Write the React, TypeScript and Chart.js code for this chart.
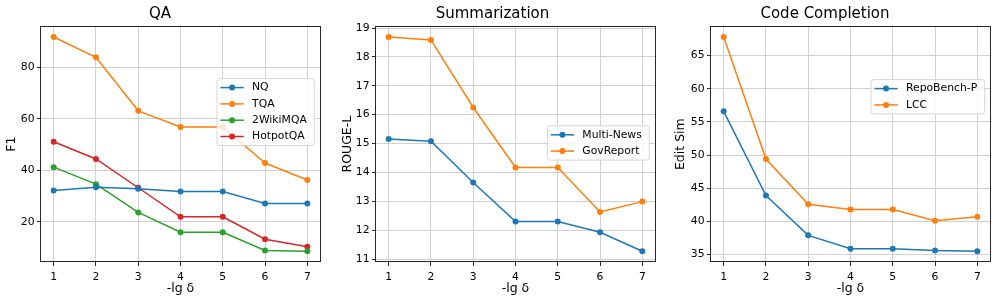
import React, { useEffect, useRef } from "react";
import { Chart, registerables } from "chart.js";

Chart.register(...registerables);

// ---- data ----
const steps = [1, 2, 3, 4, 5, 6, 7];

const qaNQ = [32.1, 33.4, 32.8, 31.7, 31.7, 27.1, 27.1];
const qaTQA = [91.8, 83.9, 63.1, 56.8, 56.8, 42.8, 36.2];
const qa2Wiki = [41.2, 34.6, 23.6, 15.9, 15.9, 8.8, 8.5];
const qaHotpot = [51.1, 44.4, 33.2, 21.9, 21.9, 13.2, 10.3];
const qaTicks = [20, 40, 60, 80];

const sumMultiNews = [15.16, 15.08, 13.65, 12.3, 12.3, 11.93, 11.27];
const sumGovReport = [18.69, 18.59, 16.25, 14.17, 14.17, 12.63, 12.99];
const sumTicks = [11, 12, 13, 14, 15, 16, 17, 18, 19];

const codeRepoBench = [56.6, 43.9, 37.9, 35.9, 35.9, 35.6, 35.5];
const codeLCC = [67.8, 49.4, 42.6, 41.8, 41.8, 40.1, 40.7];
const codeTicks = [35, 40, 45, 50, 55, 60, 65];

const BLUE = "#1f77b4";
const ORANGE = "#ff7f0e";
const GREEN = "#2ca02c";
const RED = "#d62728";
const FONT = "'DejaVu Sans', sans-serif";

type Series = { label: string; data: number[]; color: string };
type Panel = {
  title: string;
  yLabel: string;
  series: Series[];
  yTicks: number[];
  x: number;
  width: number;
  yAxisW: number;
  rightPad: number;
  yTitlePad: number;
  legendTop: number;
  legendGap: number;
};

const panels: Panel[] = [
  {
    title: "QA",
    yLabel: "F1",
    series: [
      { label: "NQ", data: qaNQ, color: BLUE },
      { label: "TQA", data: qaTQA, color: ORANGE },
      { label: "2WikiMQA", data: qa2Wiki, color: GREEN },
      { label: "HotpotQA", data: qaHotpot, color: RED },
    ],
    yTicks: qaTicks,
    x: 0,
    width: 330,
    yAxisW: 41,
    rightPad: 10,
    yTitlePad: 4.2,
    legendTop: 52.3,
    legendGap: 5.7,
  },
  {
    title: "Summarization",
    yLabel: "ROUGE-L",
    series: [
      { label: "Multi-News", data: sumMultiNews, color: BLUE },
      { label: "GovReport", data: sumGovReport, color: ORANGE },
    ],
    yTicks: sumTicks,
    x: 330,
    width: 330,
    yAxisW: 46,
    rightPad: 5,
    yTitlePad: 9.8,
    legendTop: 99.5,
    legendGap: 5.7,
  },
  {
    title: "Code Completion",
    yLabel: "Edit Sim",
    series: [
      { label: "RepoBench-P", data: codeRepoBench, color: BLUE },
      { label: "LCC", data: codeLCC, color: ORANGE },
    ],
    yTicks: codeTicks,
    x: 660,
    width: 336,
    yAxisW: 51,
    rightPad: 6,
    yTitlePad: 13.2,
    legendTop: 53.3,
    legendGap: 5.3,
  },
];

const boxPlugin = {
  id: "boxPlugin",
  afterDatasetsDraw(chart: any) {
    const { ctx, chartArea } = chart;
    ctx.save();
    ctx.strokeStyle = "#262626";
    ctx.lineWidth = 1;
    ctx.strokeRect(
      Math.round(chartArea.left) - 0.5,
      Math.round(chartArea.top) + 0.5,
      Math.round(chartArea.right - chartArea.left) + 1,
      Math.round(chartArea.bottom - chartArea.top) - 1
    );
    ctx.restore();
  },
};

const legendPlugin = {
  id: "mplLegend",
  afterDraw(chart: any, _args: any, opts: any) {
    const { ctx, chartArea } = chart;
    const items: Series[] = opts.items || [];
    if (!items.length) return;
    ctx.save();
    ctx.font = `10.8px ${FONT}`;
    const textW = Math.max(...items.map((i) => ctx.measureText(i.label).width));
    const rowH = 16.3;
    const padL = 3.4;
    const handleW = 23.3;
    const gap = 8.3;
    const padR = 7.5;
    const w = padL + handleW + gap + textW + padR;
    const h = 18 + (items.length - 1) * rowH;
    const right = chartArea.right - opts.gap;
    const x = right - w;
    const y = chartArea.top + opts.top;
    const r = 2.5;
    ctx.beginPath();
    ctx.moveTo(x + r, y);
    ctx.lineTo(x + w - r, y);
    ctx.arcTo(x + w, y, x + w, y + r, r);
    ctx.lineTo(x + w, y + h - r);
    ctx.arcTo(x + w, y + h, x + w - r, y + h, r);
    ctx.lineTo(x + r, y + h);
    ctx.arcTo(x, y + h, x, y + h - r, r);
    ctx.lineTo(x, y + r);
    ctx.arcTo(x, y, x + r, y, r);
    ctx.closePath();
    ctx.fillStyle = "rgba(255,255,255,0.8)";
    ctx.fill();
    ctx.strokeStyle = "#d6d6d6";
    ctx.lineWidth = 1;
    ctx.stroke();
    items.forEach((it, i) => {
      const cy = y + 9 + i * rowH;
      const hx = x + padL;
      ctx.strokeStyle = it.color;
      ctx.lineWidth = 1.5;
      ctx.beginPath();
      ctx.moveTo(hx, cy);
      ctx.lineTo(hx + handleW, cy);
      ctx.stroke();
      ctx.fillStyle = it.color;
      ctx.beginPath();
      ctx.arc(hx + handleW / 2, cy, 3, 0, Math.PI * 2);
      ctx.fill();
      ctx.fillStyle = "#000";
      ctx.textAlign = "left";
      ctx.textBaseline = "middle";
      ctx.fillText(it.label, hx + handleW + gap, cy);
    });
    ctx.restore();
  },
};

function PanelChart({ p }: { p: Panel }) {
  const ref = useRef<HTMLCanvasElement | null>(null);
  useEffect(() => {
    if (!ref.current) return;
    const all = p.series.flatMap((s) => s.data);
    const dmin = Math.min(...all);
    const dmax = Math.max(...all);
    const m = (dmax - dmin) * 0.05;
    const xm = (steps[steps.length - 1] - steps[0]) * 0.05;
    const chart = new Chart(ref.current, {
      type: "line",
      data: {
        datasets: p.series.map((s) => ({
          label: s.label,
          data: s.data.map((v, i) => ({ x: steps[i], y: v })),
          borderColor: s.color,
          backgroundColor: s.color,
          pointBackgroundColor: s.color,
          pointBorderWidth: 0,
          pointRadius: 3,
          borderWidth: 1.5,
          tension: 0,
          clip: false as any,
        })),
      },
      options: {
        animation: false,
        responsive: false,
        devicePixelRatio: 1,
        layout: { padding: { left: 0, right: p.rightPad, top: 0, bottom: 0 } },
        plugins: {
          legend: { display: false },
          tooltip: { enabled: false },
          title: {
            display: true,
            text: p.title,
            color: "#000",
            font: { family: FONT, size: 15, weight: "normal" as any, lineHeight: 1.2 },
            padding: { top: 5, bottom: 3.3 },
          },
          mplLegend: { items: p.series, top: p.legendTop, gap: p.legendGap },
        } as any,
        scales: {
          x: {
            type: "linear",
            min: steps[0] - xm,
            max: steps[steps.length - 1] + xm,
            afterBuildTicks: (scale: any) => {
              scale.ticks = steps.map((v) => ({ value: v }));
            },
            afterFit: (scale: any) => {
              scale.height = 38;
            },
            ticks: {
              color: "#000",
              font: { family: FONT, size: 10.8 },
              padding: 5,
              maxRotation: 0,
              autoSkip: false,
            },
            grid: {
              color: "#d0d0d0",
              lineWidth: 1,
              tickColor: "#262626",
              tickLength: 4,
              drawTicks: true,
            },
            border: { display: false },
            title: {
              display: true,
              text: "-lg δ",
              color: "#000",
              font: { family: FONT, size: 12.5, lineHeight: 1.2 },
              padding: { top: 0, bottom: 4 },
            },
          },
          y: {
            type: "linear",
            min: dmin - m,
            max: dmax + m,
            afterBuildTicks: (scale: any) => {
              scale.ticks = p.yTicks.map((v) => ({ value: v }));
            },
            afterFit: (scale: any) => {
              scale.width = p.yAxisW;
            },
            ticks: {
              color: "#000",
              font: { family: FONT, size: 10.8 },
              padding: 2.5,
              autoSkip: false,
            },
            grid: {
              color: "#d0d0d0",
              lineWidth: 1,
              tickColor: "#262626",
              tickLength: 4,
              drawTicks: true,
            },
            border: { display: false },
            title: {
              display: true,
              text: p.yLabel,
              color: "#000",
              font: { family: FONT, size: 12.5, lineHeight: 1.2 },
              padding: { top: p.yTitlePad, bottom: 0 },
            },
          },
        },
      },
      plugins: [boxPlugin, legendPlugin],
    });
    return () => chart.destroy();
  }, [p]);
  return (
    <div style={{ position: "absolute", left: p.x, top: 0, width: p.width, height: 300 }}>
      <canvas ref={ref} width={p.width} height={300} style={{ width: p.width, height: 300, display: "block" }} />
    </div>
  );
}

export default function App() {
  return (
    <div style={{ position: "fixed", left: 0, top: 0, width: 996, height: 300, background: "#fff" }}>
      {panels.map((p) => (
        <PanelChart key={p.title} p={p} />
      ))}
    </div>
  );
}
